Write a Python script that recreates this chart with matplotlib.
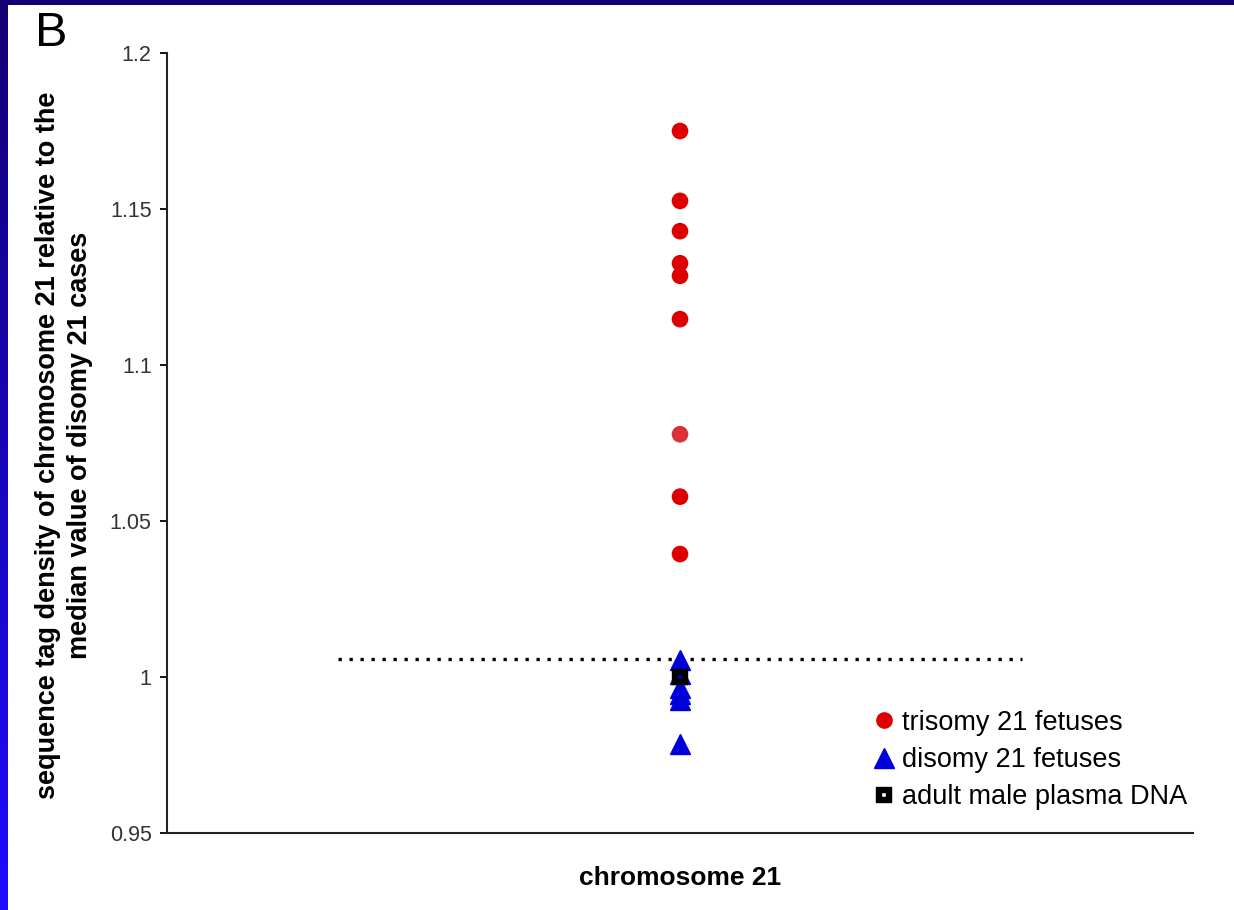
import numpy as np
import matplotlib.pyplot as plt
from matplotlib.colors import LinearSegmentedColormap
from matplotlib.lines import Line2D

plt.rcParams['font.family'] = ['Liberation Sans', 'DejaVu Sans']

# values
trisomy = [1.175, 1.1526, 1.1429, 1.1326, 1.1286, 1.1147, 1.0778, 1.0578, 1.0394]
trisomy_colors = ['#dd0000'] * 6 + ['#d9303a'] + ['#dd0000'] * 2
disomy = [1.0055, 1.001, 0.9965, 0.9945, 0.9925, 0.9785]
adult_male = [1.0]
cutoff = 1.0058
yticks = [0.95, 1.0, 1.05, 1.1, 1.15, 1.2]
ytick_labels = ['0.95', '1', '1.05', '1.1', '1.15', '1.2']
legend_labels = ['trisomy 21 fetuses', 'disomy 21 fetuses', 'adult male plasma DNA']

fig = plt.figure(figsize=(12.34, 9.1), dpi=100)

# blue slide border: top band and left gradient strip (dark at top, bright at bottom)
border = LinearSegmentedColormap.from_list('border', ['#130072', '#1e0cff'])
bax = fig.add_axes([0, 0, 8 / 1234, 1])
bax.imshow(np.linspace(0, 1, 200).reshape(-1, 1), aspect='auto', cmap=border)
bax.set_axis_off()
tax = fig.add_axes([0, 1 - 5 / 910, 1, 5 / 910])
tax.set_facecolor('#130072')
tax.set_xticks([])
tax.set_yticks([])
for s in tax.spines.values():
    s.set_visible(False)

ax = fig.add_axes([167 / 1234, 77 / 910, 1026 / 1234, 780 / 910])

x_pos = 1.0
ax.scatter([x_pos] * len(trisomy), trisomy, s=12 ** 2, c=trisomy_colors,
           marker='o', linewidths=0, zorder=3)
ax.plot([x_pos] * len(disomy), disomy, linestyle='none', marker='^',
        ms=15, color='#0000d8', mec='#0000d8', zorder=3)
ax.plot([x_pos] * len(adult_male), adult_male, linestyle='none', marker='s',
        ms=7, mfc='none', mec='black', mew=4.6, zorder=4)

ax.plot([0.667, 1.333], [cutoff, cutoff], color='black', lw=2.4,
        linestyle=(0, (1, 2.3)), zorder=2)

ax.set_xlim(0.5, 1.5)
ax.set_ylim(0.95, 1.2)
ax.set_yticks(yticks)
ax.set_yticklabels(ytick_labels)
ax.set_xticks([])
ax.tick_params(axis='y', direction='out', length=5, width=1.3,
               labelsize=15.5, labelcolor='#333333', pad=6)
for side in ['top', 'right']:
    ax.spines[side].set_visible(False)
for side in ['left', 'bottom']:
    ax.spines[side].set_linewidth(1.5)
    ax.spines[side].set_color('#222222')

ax.set_xlabel('chromosome 21', fontsize=19, fontweight='bold', labelpad=24)

fig.text(64 / 1234, 1 - 445 / 910,
         'sequence tag density of chromosome 21 relative to the\nmedian value of disomy 21 cases',
         rotation=90, ha='center', va='center', multialignment='center',
         fontsize=19.5, fontweight='bold', linespacing=1.32)

fig.text(35 / 1234, 1 - 33 / 910, 'B', fontsize=35, ha='left', va='center')

handles = [
    Line2D([], [], linestyle='none', marker='o', ms=12, color='#dd0000', mew=0),
    Line2D([], [], linestyle='none', marker='^', ms=15, color='#0000d8'),
    Line2D([], [], linestyle='none', marker='s', ms=7, mfc='white', mec='black', mew=4.6),
]
ax.legend(handles, legend_labels, loc='center left', frameon=False,
          bbox_to_anchor=(872 / 1234, 1 - 760 / 910), bbox_transform=fig.transFigure,
          fontsize=19.5, handlelength=0.9, handletextpad=0.2, labelspacing=0.42,
          borderpad=0, borderaxespad=0)

fig.savefig('out.png', dpi=100, facecolor='white')
